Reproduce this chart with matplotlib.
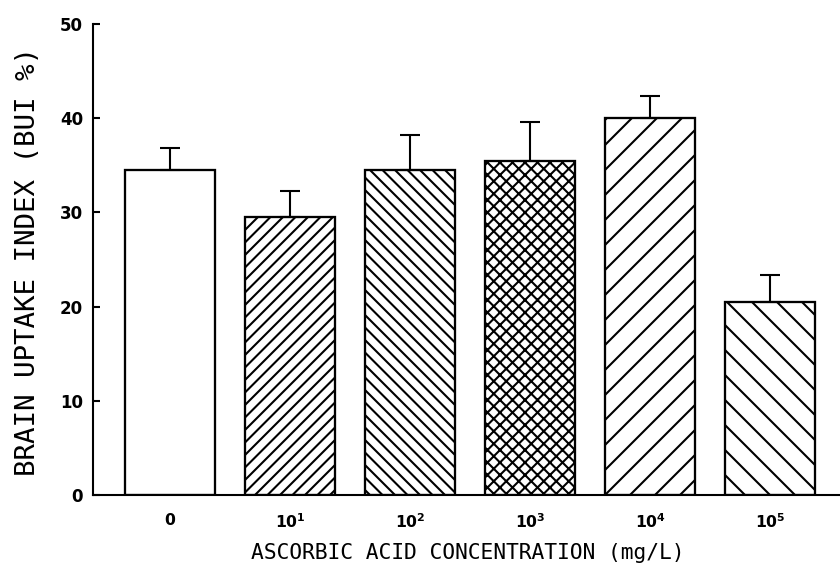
import matplotlib
matplotlib.use("Agg")
import matplotlib.pyplot as plt

# values
groups = ["0", "$10^1$", "$10^2$", "$10^3$", "$10^4$", "$10^5$"]
bui = [34.5, 29.5, 34.5, 35.5, 40.0, 20.5]
err = [2.3, 2.8, 3.7, 4.1, 2.4, 2.9]
hatches = ["", "////", "\\\\\\\\", "xxxx", "//", "\\\\"]

plt.rcParams["hatch.linewidth"] = 1.0
plt.rcParams["mathtext.default"] = "regular"

fig = plt.figure(figsize=(5.6, 565 / 150), dpi=150)
ax = fig.add_axes([93 / 840, 70 / 565, 747 / 840, 471 / 565])

x = list(range(len(groups)))
for i in x:
    ax.bar(i, bui[i], width=0.75, color="white", edgecolor="black",
           linewidth=1.1, hatch=hatches[i], zorder=2)
ax.errorbar(x, bui, yerr=[[0] * len(err), err], fmt="none", ecolor="black",
            elinewidth=1.0, capsize=4.6, capthick=1.0, zorder=3)

ax.set_xlim(-0.642, 5.583)
ax.set_ylim(0, 50)
ax.spines["top"].set_visible(False)
ax.spines["right"].set_visible(False)
ax.spines["left"].set_linewidth(1.0)
ax.spines["bottom"].set_linewidth(1.0)

ax.set_yticks([0, 10, 20, 30, 40, 50])
ax.tick_params(axis="y", direction="in", length=3.4, width=1.0, pad=4.8,
               labelsize=8)
ax.set_xticks(x)
ax.set_xticklabels(groups)
ax.tick_params(axis="x", length=0, pad=8.5, labelsize=7.5)
for t in ax.get_yticklabels() + ax.get_xticklabels():
    t.set_fontweight("bold")

ax.set_xlabel("ASCORBIC ACID CONCENTRATION (mg/L)", family="DejaVu Sans Mono",
              fontsize=10.2)
ax.xaxis.set_label_coords(0.502, -0.123)
ax.xaxis.label.set_va("center")
ax.set_ylabel("BRAIN UPTAKE INDEX (BUI %)", family="DejaVu Sans Mono",
              fontsize=13.2)
ax.yaxis.set_label_coords(-0.087, 0.495)
ax.yaxis.label.set_va("center")

fig.savefig("out.png", dpi=150)
